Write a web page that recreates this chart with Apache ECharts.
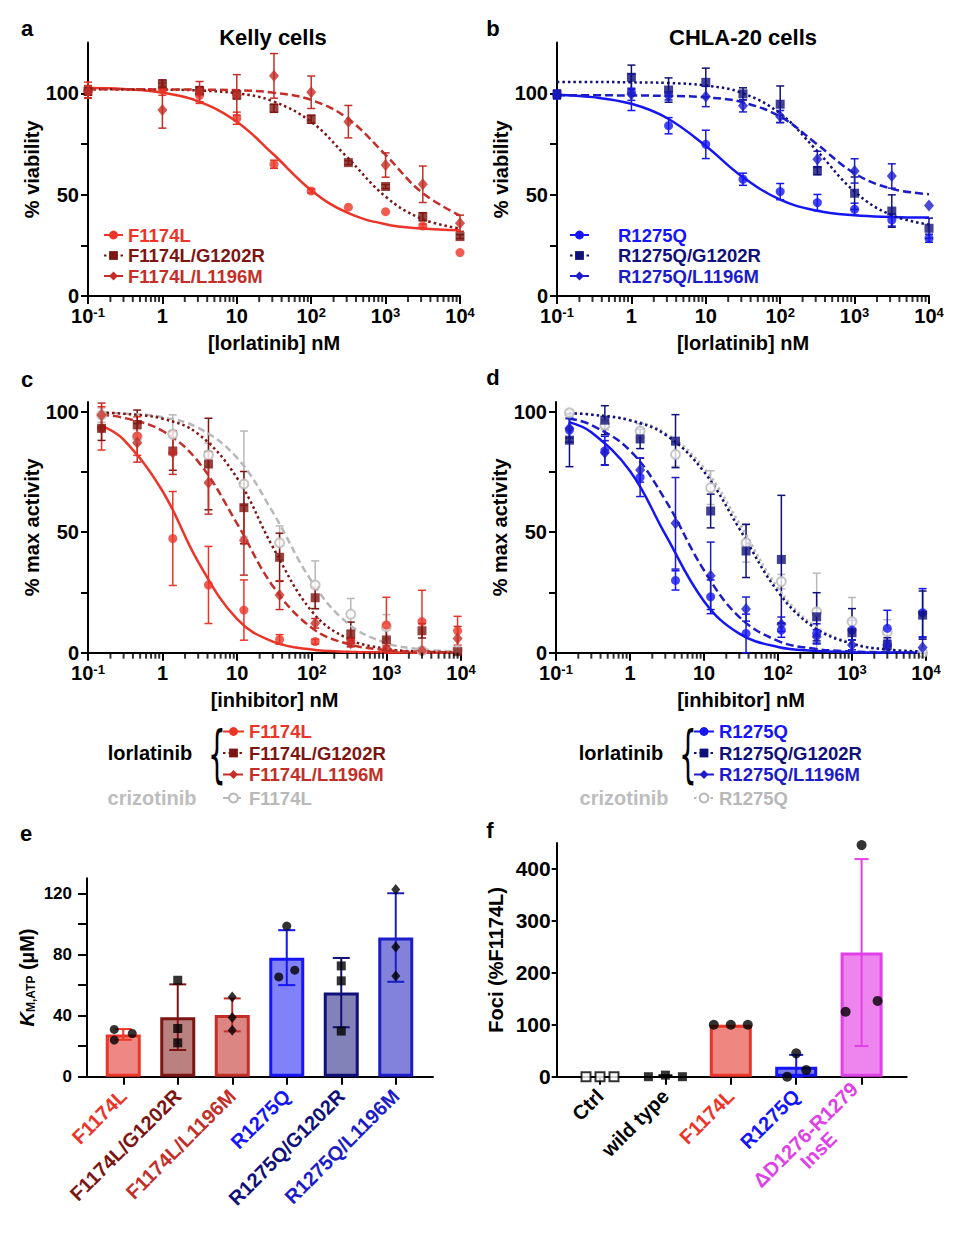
<!DOCTYPE html>
<html><head><meta charset="utf-8">
<script src="https://cdn.jsdelivr.net/npm/echarts@6/dist/echarts.min.js"></script>
<style>html,body{margin:0;padding:0;background:#fff}#c{width:960px;height:1233px}</style>
</head><body><div id="c"></div>
<script>
// ================= DATA =================
// log-axis tick values / labels
const LOG_TICKS = [0.1, 1, 10, 100, 1000, 10000];
const LOG_TICK_LABELS = ['10{s|-1}', '1', '10', '10{s|2}', '10{s|3}', '10{s|4}'];
const LOG_MINOR_TICKS = [0.2,0.3,0.4,0.5,0.6,0.7,0.8,0.9, 2,3,4,5,6,7,8,9, 20,30,40,50,60,70,80,90,
  200,300,400,500,600,700,800,900, 2000,3000,4000,5000,6000,7000,8000,9000];
const VIAB_TICKS = [0, 25, 50, 75, 100];
const VIAB_LABELS = [0, 50, 100];
const KM_TICKS = [0, 20, 40, 60, 80, 100, 120];
const KM_LABELS = [0, 40, 80, 120];
const FOCI_TICKS = [0, 100, 200, 300, 400];

// ---- panel a: Kelly cells, % viability vs [lorlatinib] nM ----
const DOSE_AB = [0.1, 1, 3.16, 10, 31.6, 100, 316, 1000, 3162, 10000];
const KELLY_F1174L    = [101.5, 102, 99, 87.7, 65, 51.8, 43.8, 41.6, 34.5, 21.4];
const KELLY_F1174L_SD = [4, 3, 4, 3, 2, 1, 0, 0, 1, 0];
const KELLY_G1202R    = [101, 104.6, 101.3, 99.2, 92.6, 87.2, 65.8, 54, 39.1, 29.3];
const KELLY_G1202R_SD = [2, 2, 2, 2, 2, 2, 1, 1, 2, 1];
const KELLY_L1196M    = [100.8, 91.8, 100.8, 99.2, 108.6, 100.5, 86, 64.6, 55.1, 35.9];
const KELLY_L1196M_SD = [3, 9, 5, 10, 11, 8, 8, 6, 9, 4];
// fitted curves
const FIT_X_AB = [0.1, 0.3, 1, 3, 10, 30, 100, 300, 1000, 3000, 10000];
const KELLY_F1174L_FIT = [102.6, 102.1, 100.3, 96.1, 86, 70.4, 52.2, 41.2, 35.4, 33.3, 32.4];
const KELLY_G1202R_FIT = [102, 101.9, 101.8, 101.4, 100, 96.2, 85.9, 68.7, 49, 38.2, 33.3];
const KELLY_L1196M_FIT = [102, 102, 101.9, 101.8, 101.5, 100.4, 96.7, 87.9, 69.6, 51.4, 39.6];

// ---- panel b: CHLA-20 cells ----
const CHLA_R1275Q    = [99.2, 100.5, 84, 74.8, 57.6, 51.5, 46.1, 42.8, 37.5, 28.5];
const CHLA_R1275Q_SD = [2, 9, 4, 7, 3, 4, 4, 3, 3, 2];
const CHLA_G1202R    = [99.5, 107.9, 101.6, 105.4, 99.7, 94.6, 61.8, 50.7, 41.9, 33.4];
const CHLA_G1202R_SD = [2, 6, 6, 7, 3, 9, 2, 8, 8, 5];
const CHLA_L1196M    = [99.5, 99.5, 98.7, 98.4, 93.8, 88.5, 67.4, 61.7, 59.2, 44.6];
const CHLA_L1196M_SD = [2, 3, 2, 5, 3, 3, 4, 6, 6, 0];
const CHLA_R1275Q_FIT = [99.3, 98.1, 94.8, 87.8, 74, 59.2, 47.5, 42.2, 39.8, 39, 38.7];
const CHLA_G1202R_FIT = [105.6, 105.6, 105.4, 105.1, 103.8, 100.3, 90, 72.3, 51.5, 40.2, 35.2];
const CHLA_L1196M_FIT = [99, 99, 98.9, 98.7, 98, 95.7, 88.5, 75.4, 60.5, 53.1, 50.2];

// ---- panel c: % max activity vs [inhibitor] nM (F1174L series) ----
const DOSE_CD = [0.152, 0.457, 1.37, 4.12, 12.3, 37, 111, 333, 1000, 3000, 9000];
const ACT_F1174L    = [93.1, 89.9, 47.4, 28.1, 17.7, 5.5, 4.6, 5, 11.5, 12.9, 9.1];
const ACT_F1174L_SD = [9, 8, 19.5, 16, 12.5, 2, 1, 1, 11.5, 13, 6];
const ACT_F_G1202R    = [93.1, 94.7, 83.7, 78.3, 60.2, 39.6, 22.8, 7.7, 5.3, 9.1, 0.4];
const ACT_F_G1202R_SD = [5, 6, 8, 19, 15, 10, 4.5, 5, 5, 3, 0];
const ACT_F_L1196M    = [98.6, 87.1, 83, 70.5, 46.7, 23.9, 12.2, 3.9, 1.8, 0.8, 5.9];
const ACT_F_L1196M_SD = [5, 8, 9, 13, 14.5, 6, 2, 1.5, 1, 1, 5];
const ACT_F_CRIZO    = [98.6, 89.6, 90.7, 82, 70, 45.6, 28.1, 16, 10.8, 0.8, 1.1];
const ACT_F_CRIZO_SD = [3, 3, 8, 5, 22, 7, 10, 6.5, 5, 1, 1];
const FIT_X_CD = [0.15, 0.3, 1, 3, 10, 30, 100, 300, 1000, 3000, 9000];
const ACT_F1174L_FIT   = [94.2, 88.4, 67, 37.7, 13.9, 4.6, 1.3, 0.4, 0.1, 0.03, 0.01];
const ACT_F_G1202R_FIT = [99.6, 99.2, 97.1, 90.8, 72.4, 43.9, 17.2, 5.9, 1.6, 0.5, 0.15];
const ACT_F_L1196M_FIT = [98.7, 97.5, 92, 79.3, 53.5, 27.7, 10.3, 3.7, 1.1, 0.4, 0.13];
const ACT_F_CRIZO_FIT  = [99.6, 99.3, 97.7, 93.3, 80.8, 58.3, 29.6, 12.3, 4, 1.4, 0.5];

// ---- panel d: R1275Q series ----
const ACT_R1275Q    = [92.4, 83.8, 72.8, 30, 23.2, 8, 9.4, 8, 9.4, 10.1, 16.6];
const ACT_R1275Q_SD = [5, 6, 8, 4, 7, 8, 3, 4, 4, 7.5, 10];
const ACT_R_G1202R    = [88.2, 96.5, 88.7, 87.8, 58.8, 42.2, 38.7, 14.9, 8.3, 3.2, 15.6];
const ACT_R_G1202R_SD = [11, 6, 4, 11, 7, 11, 26.6, 10, 10, 3, 10];
const ACT_R_L1196M    = [93.1, 83, 75.8, 53.7, 31.9, 18.1, 11.8, 6.6, 3.2, 3.2, 2.2];
const ACT_R_L1196M_SD = [4, 5, 5, 19, 14, 5, 3, 3, 2, 2, 4];
const ACT_R_CRIZO    = [99.6, 94.5, 92, 82.3, 68.5, 45.6, 29.5, 17, 12.9, 8.7, 0];
const ACT_R_CRIZO_SD = [1, 2, 3, 5, 7, 8, 3, 16, 10, 5, 0];
const ACT_R1275Q_FIT   = [95.7, 91.5, 75.4, 49.1, 21.4, 7.9, 2.4, 0.8, 0.2, 0.07, 0.02];
const ACT_R_G1202R_FIT = [99.4, 98.8, 96.4, 90.5, 75.1, 51.5, 25.3, 10.7, 3.7, 1.3, 0.5];
const ACT_R_L1196M_FIT = [97.2, 94.5, 83.9, 63.4, 34.2, 14.8, 4.9, 1.7, 0.5, 0.17, 0.06];
const ACT_R_CRIZO_FIT  = [99.4, 98.9, 96.7, 91.2, 76.7, 53.7, 26.9, 11.5, 4, 1.4, 0.5];

// ---- panel e: KM,ATP ----
const KM_CATS = ['F1174L', 'F1174L/G1202R', 'F1174L/L1196M', 'R1275Q', 'R1275Q/G1202R', 'R1275Q/L1196M'];
const KM_MEAN = [27.7, 39, 40.5, 78, 55.1, 91.2];
const KM_SD   = [3.5, 21.5, 10.8, 18, 22.7, 29];
const KM_REPS = [[31, 28.3, 24], [63.2, 31.6, 22.2], [52.3, 38.8, 30.5], [98.7, 65.4, 69.8], [72.6, 62.8, 29.9], [122.7, 85, 66]];

// ---- panel f: Foci ----
const FOCI_CATS = ['Ctrl', 'wild type', 'F1174L', 'R1275Q', 'ΔD1276-R1279\nInsE'];
const FOCI_MEAN = [0, 1, 100, 19, 239];
const FOCI_SD   = [0, 1.7, 0, 23, 180];
const FOCI_REPS = [[0, 0, 0], [0, 3, 0], [100, 100, 100], [45, 12.8, 0], [446, 125, 146]];

// ================= STYLE =================
const FONT = '"Liberation Sans", Arial, Helvetica, sans-serif';
const C_F = '#ec3428', C_FG = '#7d1512', C_FL = '#c42e28';
const C_R = '#1515f5', C_RG = '#10107a', C_RL = '#1c1cc8';
const C_GRAY = '#b8b8b8', C_MAG = '#e040e8';
const DOT = [2.5, 3], DASH = [8, 4];
const KM_FILL = ['#ef8884', '#b98280', '#dc8683', '#8282f8', '#8282b8', '#8282dc'];
const KM_EDGE = [C_F, C_FG, C_FL, C_R, C_RG, C_RL];
const KM_SYM = ['circle', 'rect', 'diamond', 'circle', 'rect', 'diamond'];
const KM_JITTER = [[-9, 9, -9], [0, 0, 0], [0, 0, 0], [0, -8, 8], [0, 0, 0], [0, 0, 0]];
const FOCI_FILL = ['rgba(0,0,0,0)', 'rgba(0,0,0,0)', '#ef8680', '#7c7cf0', '#ee84ee'];
const FOCI_EDGE = ['rgba(0,0,0,0)', 'rgba(0,0,0,0)', C_F, C_R, C_MAG];
const FOCI_LABEL_C = ['#000', '#000', C_F, C_R, C_MAG];
const FOCI_SYM = ['emptyRect', 'rect', 'circle', 'circle', 'circle'];
const FOCI_JITTER = [[-14, 0, 14], [-17, 0, 17], [-17, 0, 17], [0, 10, -9], [0, -16, 16]];

const T = (size, extra) => Object.assign({fontSize: size, fontWeight: 'bold', fontFamily: FONT, color: '#000'}, extra || {});

// ================= AXES =================
const grids = [
  {left: 88, top: 42.6, width: 372, height: 253.4},     // a
  {left: 557, top: 42.6, width: 372, height: 253.4},    // b
  {left: 88, top: 402.1, width: 373, height: 250.6},    // c
  {left: 556, top: 402.1, width: 370, height: 250.6},   // d
  {left: 96, top: 878.3, width: 327, height: 198.4},    // e
  {left: 567.3, top: 843, width: 327, height: 233.7},   // f
  {left: 87, top: 878.3, width: 346, height: 198.4},    // e base line
  {left: 556.7, top: 843, width: 350, height: 233.7}    // f base line
];
const AXLINE = {show: true, lineStyle: {color: '#000', width: 2}};
function logX(gi, name) {
  return {type: 'log', logBase: 10, gridIndex: gi, min: 0.1, max: 10000, splitNumber: 5,
    name, nameLocation: 'middle', nameGap: 37, nameTextStyle: T(20),
    axisLine: AXLINE, axisTick: {show: true, length: 8, lineStyle: {color: '#000', width: 2}},
    splitLine: {show: false}, minorTick: {show: false},
    axisLabel: Object.assign(T(20), {margin: 10, formatter: v => {
      const i = LOG_TICKS.findIndex(t => Math.abs(Math.log10(t) - Math.log10(v)) < 1e-6);
      return i >= 0 ? LOG_TICK_LABELS[i] : '';
    }, rich: {s: T(13, {verticalAlign: 'top', lineHeight: 13})}})};
}
function valY(gi, max, name, ticks, labels, o) {
  o = o || {};
  return {type: 'value', gridIndex: gi, min: 0, max, name, nameLocation: 'middle', nameGap: o.gap || 40,
    nameRotate: 90, nameTextStyle: Object.assign(T(20), o.nameStyle || {}), offset: o.offset || 0,
    axisLine: AXLINE, splitLine: {show: false},
    axisTick: {show: true, length: o.tick || 7, customValues: ticks, lineStyle: {color: '#000', width: 2}},
    axisLabel: Object.assign(T(o.font || 20), {customValues: labels, margin: o.margin || 9})};
}
const xAxes = [
  logX(0, '[lorlatinib] nM'), logX(1, '[lorlatinib] nM'),
  logX(2, '[inhibitor] nM'), logX(3, '[inhibitor] nM'),
  {type: 'category', gridIndex: 4, data: KM_CATS.map((c, i) => ({value: c, textStyle: {color: KM_EDGE[i]}})),
   axisLine: {show: false}, axisTick: {show: true, alignWithLabel: true, length: 8, lineStyle: {color: '#000', width: 2}},
   axisLabel: Object.assign(T(20), {rotate: 45, interval: 0, margin: 16})},
  {type: 'category', gridIndex: 5,
   data: FOCI_CATS.map((c, i) => ({value: c, textStyle: {color: FOCI_LABEL_C[i]}})),
   axisLine: {show: false}, axisTick: {show: true, alignWithLabel: true, length: 8, lineStyle: {color: '#000', width: 2}},
   axisLabel: Object.assign(T(20), {rotate: 45, interval: 0, margin: 16,
     formatter: v => v.indexOf('\n') >= 0 ? '{a|' + v.split('\n')[0] + '}\n{b|' + v.split('\n')[1] + '}' : v,
     rich: {a: T(20, {color: C_MAG}), b: T(20, {color: C_MAG, padding: [0, 50, 0, 0]})}})},
  {type: 'value', gridIndex: 6, min: 0, max: 1, axisLine: AXLINE, axisTick: {show: false}, axisLabel: {show: false}, splitLine: {show: false}},
  {type: 'value', gridIndex: 7, min: 0, max: 1, axisLine: AXLINE, axisTick: {show: false}, axisLabel: {show: false}, splitLine: {show: false}}
];
const yAxes = [
  valY(0, 125, '% viability', VIAB_TICKS, VIAB_LABELS),
  valY(1, 125, '% viability', VIAB_TICKS, VIAB_LABELS),
  valY(2, 104, '% max activity', VIAB_TICKS, VIAB_LABELS),
  valY(3, 104, '% max activity', VIAB_TICKS, VIAB_LABELS),
  valY(4, 130, '{k|K}{sub|M,ATP}{n| (µM)}', KM_TICKS, KM_LABELS,
       {offset: 9, gap: 50, tick: 9, margin: 15, font: 17,
        nameStyle: {rich: {k: T(20, {fontStyle: 'italic'}), sub: T(12, {verticalAlign: 'bottom', lineHeight: 12}), n: T(20)}}}),
  valY(5, 450, 'Foci (%F1174L)', FOCI_TICKS, FOCI_TICKS, {offset: 10.6, gap: 51, tick: 5, margin: 6, font: 21}),
  {type: 'value', gridIndex: 6, show: false, min: 0, max: 1},
  {type: 'value', gridIndex: 7, show: false, min: 0, max: 1}
];

// ================= SERIES =================
const series = [];
function errRenderer(color, cap, lw, floor0) {
  return function (params, api) {
    const x = api.value(0);
    let lo = api.value(1); const hi = api.value(2);
    if (hi - lo < 0.3) return null;
    if (floor0 && lo < 0) lo = 0;
    const a = api.coord([x, lo]), b = api.coord([x, hi]);
    const st = {stroke: color, lineWidth: lw};
    return {type: 'group', children: [
      {type: 'line', shape: {x1: a[0], y1: a[1], x2: b[0], y2: b[1]}, style: st},
      {type: 'line', shape: {x1: a[0] - cap, y1: a[1], x2: a[0] + cap, y2: a[1]}, style: st},
      {type: 'line', shape: {x1: b[0] - cap, y1: b[1], x2: b[0] + cap, y2: b[1]}, style: st}
    ]};
  };
}
function addDose(ai, key, label, xs, ys, sds, fx, fy, color, symbol, size, ltype, floor0) {
  const name = key + '|' + label;
  series.push({type: 'custom', name: name + ' err', xAxisIndex: ai, yAxisIndex: ai, z: 3, silent: true, clip: false,
    renderItem: errRenderer(color, 4, 1.5, floor0), encode: {x: 0, y: [1, 2]},
    data: xs.map((x, i) => [x, ys[i] - sds[i], ys[i] + sds[i]])});
  series.push({type: 'line', name, xAxisIndex: ai, yAxisIndex: ai, z: 3, silent: true,
    data: fx.map((x, i) => [x, fy[i]]), smooth: 0.4, showSymbol: false, symbol, symbolSize: size,
    itemStyle: {color}, lineStyle: {color, width: 2.5, type: ltype}});
  series.push({type: 'scatter', name: name + ' pts', xAxisIndex: ai, yAxisIndex: ai, z: 4, silent: true,
    data: xs.map((x, i) => [x, ys[i]]), symbol, symbolSize: size,
    itemStyle: symbol === 'emptyCircle' ? {color, borderWidth: 1.5} : {color}});
}
const DIA = [10, 12];
addDose(0, 'a', 'F1174L', DOSE_AB, KELLY_F1174L, KELLY_F1174L_SD, FIT_X_AB, KELLY_F1174L_FIT, C_F, 'circle', 9, 'solid');
addDose(0, 'a', 'F1174L/G1202R', DOSE_AB, KELLY_G1202R, KELLY_G1202R_SD, FIT_X_AB, KELLY_G1202R_FIT, C_FG, 'rect', 9, DOT);
addDose(0, 'a', 'F1174L/L1196M', DOSE_AB, KELLY_L1196M, KELLY_L1196M_SD, FIT_X_AB, KELLY_L1196M_FIT, C_FL, 'diamond', DIA, DASH);
addDose(1, 'b', 'R1275Q', DOSE_AB, CHLA_R1275Q, CHLA_R1275Q_SD, FIT_X_AB, CHLA_R1275Q_FIT, C_R, 'circle', 9, 'solid');
addDose(1, 'b', 'R1275Q/G1202R', DOSE_AB, CHLA_G1202R, CHLA_G1202R_SD, FIT_X_AB, CHLA_G1202R_FIT, C_RG, 'rect', 9, DOT);
addDose(1, 'b', 'R1275Q/L1196M', DOSE_AB, CHLA_L1196M, CHLA_L1196M_SD, FIT_X_AB, CHLA_L1196M_FIT, C_RL, 'diamond', DIA, DASH);
addDose(2, 'cz', 'F1174L', DOSE_CD, ACT_F_CRIZO, ACT_F_CRIZO_SD, FIT_X_CD, ACT_F_CRIZO_FIT, C_GRAY, 'emptyCircle', 9, [7, 4], true);
addDose(2, 'c', 'F1174L', DOSE_CD, ACT_F1174L, ACT_F1174L_SD, FIT_X_CD, ACT_F1174L_FIT, C_F, 'circle', 9, 'solid', true);
addDose(2, 'c', 'F1174L/G1202R', DOSE_CD, ACT_F_G1202R, ACT_F_G1202R_SD, FIT_X_CD, ACT_F_G1202R_FIT, C_FG, 'rect', 9, DOT, true);
addDose(2, 'c', 'F1174L/L1196M', DOSE_CD, ACT_F_L1196M, ACT_F_L1196M_SD, FIT_X_CD, ACT_F_L1196M_FIT, C_FL, 'diamond', DIA, DASH, true);
addDose(3, 'dz', 'R1275Q', DOSE_CD, ACT_R_CRIZO, ACT_R_CRIZO_SD, FIT_X_CD, ACT_R_CRIZO_FIT, C_GRAY, 'emptyCircle', 9, DOT, true);
addDose(3, 'd', 'R1275Q', DOSE_CD, ACT_R1275Q, ACT_R1275Q_SD, FIT_X_CD, ACT_R1275Q_FIT, C_R, 'circle', 9, 'solid', true);
addDose(3, 'd', 'R1275Q/G1202R', DOSE_CD, ACT_R_G1202R, ACT_R_G1202R_SD, FIT_X_CD, ACT_R_G1202R_FIT, C_RG, 'rect', 9, DOT, true);
addDose(3, 'd', 'R1275Q/L1196M', DOSE_CD, ACT_R_L1196M, ACT_R_L1196M_SD, FIT_X_CD, ACT_R_L1196M_FIT, C_RL, 'diamond', DIA, DASH, true);

// log-axis minor ticks (2..9 per decade): small rect marks hanging below each axis line
for (let ai = 0; ai < 4; ai++) {
  series.push({type: 'scatter', name: 'minor ticks ' + ai, xAxisIndex: ai, yAxisIndex: ai, z: 5, silent: true, clip: false,
    data: LOG_MINOR_TICKS.map(v => [v, 0]), symbol: 'rect', symbolSize: [2, 6], symbolOffset: [0, 3],
    itemStyle: {color: '#000'}});
}

// panel e
series.push({type: 'bar', name: 'km bars', xAxisIndex: 4, yAxisIndex: 4, z: 2, silent: true, barWidth: 35,
  data: KM_MEAN.map((v, i) => ({value: v, itemStyle: {color: KM_FILL[i], borderColor: KM_EDGE[i], borderWidth: 3}}))});
KM_CATS.forEach((c, i) => {
  series.push({type: 'custom', name: 'km err ' + i, xAxisIndex: 4, yAxisIndex: 4, z: 3, silent: true, clip: false,
    renderItem: errRenderer(KM_EDGE[i], 8.5, 2, true), encode: {x: 0, y: [1, 2]},
    data: [[i, KM_MEAN[i] - KM_SD[i], KM_MEAN[i] + KM_SD[i]]]});
});
series.push({type: 'scatter', name: 'km pts', xAxisIndex: 4, yAxisIndex: 4, z: 4, silent: true, symbolSize: 9,
  itemStyle: {color: '#000'},
  data: KM_REPS.flatMap((reps, i) => reps.map((v, k) => ({value: [i, v], symbol: KM_SYM[i],
    symbolSize: KM_SYM[i] === 'diamond' ? [9, 11] : 9, symbolOffset: [KM_JITTER[i][k], 0]})))});

// panel f
series.push({type: 'bar', name: 'foci bars', xAxisIndex: 5, yAxisIndex: 5, z: 2, silent: true, barWidth: 42,
  data: FOCI_MEAN.map((v, i) => ({value: v, itemStyle: {color: FOCI_FILL[i], borderColor: FOCI_EDGE[i], borderWidth: FOCI_MEAN[i] > 5 ? 3 : 0}}))});
FOCI_CATS.forEach((c, i) => {
  series.push({type: 'custom', name: 'foci err ' + i, xAxisIndex: 5, yAxisIndex: 5, z: 3, silent: true, clip: false,
    renderItem: errRenderer(FOCI_LABEL_C[i], 7, 2, true), encode: {x: 0, y: [1, 2]},
    data: [[i, FOCI_MEAN[i] - FOCI_SD[i], FOCI_MEAN[i] + FOCI_SD[i]]]});
});
series.push({type: 'scatter', name: 'foci pts', xAxisIndex: 5, yAxisIndex: 5, z: 4, silent: true, symbolSize: 10,
  itemStyle: {color: '#000'},
  data: FOCI_REPS.flatMap((reps, i) => reps.map((v, k) => ({value: [i, v], symbol: FOCI_SYM[i],
    itemStyle: FOCI_SYM[i] === 'emptyRect' ? {color: '#000', borderWidth: 1.5} : {color: '#000'},
    symbolSize: FOCI_SYM[i] === 'circle' ? 10 : 9, symbolOffset: [FOCI_JITTER[i][k], 0]})))});

// ================= LEGENDS =================
function legend(left, top, items, o) {
  o = o || {};
  return {show: true, orient: 'vertical', left, top, padding: 0, itemWidth: o.iw || 19, itemHeight: 11,
    itemGap: o.gap || 0.5, selectedMode: false, formatter: n => n.split('|')[1],
    textStyle: T(18.5, {lineHeight: o.lh || 20, padding: o.pad || 0}),
    data: items.map(([n, c]) => ({name: n, textStyle: {color: c}}))};
}
const legends = [
  legend(103, 225, [['a|F1174L', C_F], ['a|F1174L/G1202R', C_FG], ['a|F1174L/L1196M', C_FL]]),
  legend(569, 225, [['b|R1275Q', C_R], ['b|R1275Q/G1202R', C_RG], ['b|R1275Q/L1196M', C_RL]], {pad: [0, 0, 0, 24]}),
  legend(222, 721, [['c|F1174L', C_F], ['c|F1174L/G1202R', C_FG], ['c|F1174L/L1196M', C_FL]], {iw: 21, lh: 21}),
  legend(222, 788, [['cz|F1174L', C_GRAY]], {iw: 21}),
  legend(693, 721, [['d|R1275Q', C_R], ['d|R1275Q/G1202R', C_RG], ['d|R1275Q/L1196M', C_RL]], {iw: 20, lh: 21}),
  legend(693, 788, [['dz|R1275Q', C_GRAY]], {iw: 20})
];

// ================= TEXT =================
function txt(x, y, text, size, color, extra) {
  return Object.assign({type: 'text', x, y, silent: true, style: {text, fontSize: size, fontWeight: 'bold', fontFamily: FONT,
    fill: color || '#000', textAlign: 'center', align: 'center', textVerticalAlign: 'middle', verticalAlign: 'middle'}}, extra || {});
}
const graphics = [
  txt(27, 28, 'a', 22), txt(493, 28, 'b', 22), txt(27, 379, 'c', 22), txt(493, 377, 'd', 22),
  txt(26, 833, 'e', 22), txt(490, 830, 'f', 22),
  txt(273, 37, 'Kelly cells', 22), txt(743, 37, 'CHLA-20 cells', 22),
  txt(150, 753, 'lorlatinib', 20), txt(152, 798, 'crizotinib', 20, '#bdbdbd'),
  txt(621, 753, 'lorlatinib', 20), txt(624, 798, 'crizotinib', 20, '#bdbdbd'),
  {type: 'text', x: 217, y: 753, scaleX: 0.45, silent: true, style: {text: '{', fontSize: 62, fontFamily: '"DejaVu Sans", sans-serif',
    fill: '#000', textAlign: 'center', align: 'center', textVerticalAlign: 'middle', verticalAlign: 'middle'}},
  {type: 'text', x: 688, y: 753, scaleX: 0.45, silent: true, style: {text: '{', fontSize: 62, fontFamily: '"DejaVu Sans", sans-serif',
    fill: '#000', textAlign: 'center', align: 'center', textVerticalAlign: 'middle', verticalAlign: 'middle'}}
];

const chart = echarts.init(document.getElementById('c'), null, {renderer: 'svg', width: 960, height: 1233});
chart.setOption({
  backgroundColor: '#fff', animation: false,
  grid: grids, xAxis: xAxes, yAxis: yAxes, series, legend: legends, graphic: graphics
});
</script></body></html>
